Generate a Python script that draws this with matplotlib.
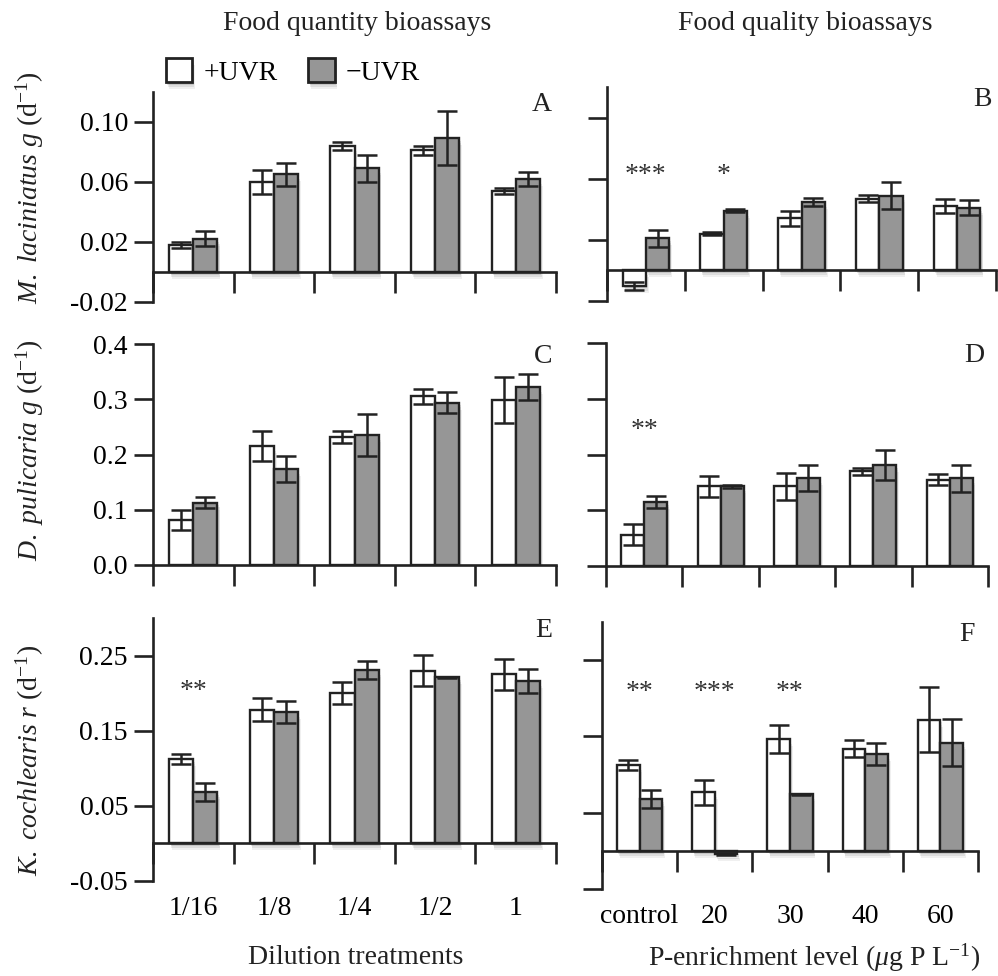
import matplotlib
matplotlib.use("Agg")
import matplotlib.pyplot as plt
import matplotlib.patheffects as pe
import numpy as np

plt.rcParams['font.family'] = ['Liberation Serif', 'DejaVu Serif']
plt.rcParams['mathtext.fontset'] = 'custom'
plt.rcParams['mathtext.rm'] = 'Liberation Serif'
plt.rcParams['mathtext.it'] = 'Liberation Serif:italic'
plt.rcParams['axes.unicode_minus'] = False

# ---------------- data ----------------
cats_qty = ['1/16', '1/8', '1/4', '1/2', '1']
cats_qual = ['control', '20', '30', '40', '60']

A_plus = [0.018, 0.060, 0.084, 0.081, 0.054]
A_plus_err = [0.002, 0.008, 0.0027, 0.0027, 0.002]
A_minus = [0.022, 0.065, 0.069, 0.089, 0.062]
A_minus_err = [0.005, 0.0075, 0.009, 0.018, 0.0044]

B_plus = [-0.010, 0.024, 0.034, 0.047, 0.042]
B_plus_err = [0.0025, 0.001, 0.005, 0.0024, 0.0047]
B_minus = [0.021, 0.039, 0.0446, 0.049, 0.041]
B_minus_err = [0.0057, 0.001, 0.0025, 0.009, 0.005]

C_plus = [0.081, 0.215, 0.231, 0.305, 0.299]
C_plus_err = [0.018, 0.027, 0.011, 0.013, 0.042]
C_minus = [0.113, 0.174, 0.235, 0.294, 0.322]
C_minus_err = [0.010, 0.023, 0.038, 0.019, 0.024]

D_plus = [0.056, 0.143, 0.143, 0.170, 0.155]
D_plus_err = [0.019, 0.0185, 0.024, 0.0066, 0.010]
D_minus = [0.115, 0.143, 0.158, 0.181, 0.157]
D_minus_err = [0.0105, 0.003, 0.023, 0.027, 0.0245]

E_plus = [0.112, 0.178, 0.200, 0.230, 0.225]
E_plus_err = [0.0066, 0.0154, 0.0143, 0.021, 0.0205]
E_minus = [0.068, 0.175, 0.231, 0.221, 0.216]
E_minus_err = [0.012, 0.015, 0.012, 0.001, 0.016]

F_plus = [0.1125, 0.077, 0.147, 0.134, 0.172]
F_plus_err = [0.0065, 0.0163, 0.0185, 0.0115, 0.043]
F_minus = [0.068, -0.004, 0.074, 0.127, 0.142]
F_minus_err = [0.012, 0.001, 0.001, 0.014, 0.031]

yticks_A = [-0.02, 0.02, 0.06, 0.10]
yticks_C = [0.0, 0.1, 0.2, 0.3, 0.4]
yticks_E = [-0.05, 0.05, 0.15, 0.25]

stars_B = [(0, '***'), (1, '*')]
stars_D = [(0, '**')]
stars_E = [(0, '**')]
stars_F = [(0, '**'), (1, '***'), (2, '**')]

# ---------------- figure ----------------
W, H = 998, 976
fig = plt.figure(figsize=(W / 100, H / 100), dpi=100)

def px_axes(left, right, top, bottom):
    return fig.add_axes([left / W, 1 - bottom / H, (right - left) / W, (bottom - top) / H])

FS = 20
DARK = '#222222'
GRAY = '#969696'
bw = 0.30

SHADOW = [pe.SimplePatchShadow(offset=(1, -2), shadow_rgbFace='black', alpha=0.10),
          pe.SimplePatchShadow(offset=(1.5, -3.5), shadow_rgbFace='black', alpha=0.08),
          pe.SimplePatchShadow(offset=(2, -5), shadow_rgbFace='black', alpha=0.06),
          pe.Normal()]

def panel(ax, plus, plus_err, minus, minus_err, ylim, yticks, ylabels, letter,
          cats=None, stars=(), star_y=None, xlab_pad=None):
    x = np.arange(5)
    ekw = dict(ecolor=DARK, elinewidth=1.8, capthick=1.8, capsize=7, zorder=5)
    b1 = ax.bar(x - bw / 2, plus, bw, yerr=plus_err, color='white', edgecolor=DARK,
                linewidth=1.7, error_kw=ekw, zorder=3)
    b2 = ax.bar(x + bw / 2, minus, bw, yerr=minus_err, color=GRAY, edgecolor=DARK,
                linewidth=1.7, error_kw=ekw, zorder=3)
    for p in list(b1) + list(b2):
        p.set_path_effects(SHADOW)
    ax.set_xlim(-0.5, 4.5)
    ax.set_ylim(*ylim)
    for s in ['top', 'right']:
        ax.spines[s].set_visible(False)
    ax.spines['left'].set_linewidth(1.9)
    ax.spines['bottom'].set_linewidth(1.9)
    ax.spines['left'].set_color(DARK)
    ax.spines['bottom'].set_color(DARK)
    ax.spines['bottom'].set_position(('data', 0))
    ax.spines['bottom'].set_zorder(4)
    ax.set_xticks(np.arange(-0.5, 5.0, 1.0))
    ax.set_xticklabels([])
    ax.tick_params(axis='x', which='major', direction='out', length=15, width=1.9, color=DARK)
    ax.set_yticks(yticks)
    if ylabels is not None:
        ax.set_yticklabels(ylabels, fontsize=FS)
    else:
        ax.set_yticklabels([])
    ax.tick_params(axis='y', direction='out', length=14, width=1.9, color=DARK, pad=4)
    if cats is not None:
        ax.set_xticks(x, minor=True)
        ax.set_xticklabels(cats, minor=True, fontsize=FS)
        ax.tick_params(axis='x', which='minor', length=0, pad=xlab_pad)
    ax.patch.set_alpha(0)
    ax.text(4.45, ylim[1], letter, fontsize=FS, ha='right', va='top', color=DARK)
    for idx, s in stars:
        ax.text(idx, star_y, s, fontsize=FS, ha='center', va='center', color='#333333')

axA = px_axes(153, 556, 92, 302)
panel(axA, A_plus, A_plus_err, A_minus, A_minus_err, (-0.02, 0.12), yticks_A,
      ['-0.02', '0.02', '0.06', '0.10'], 'A')
axB = px_axes(607, 996, 87, 301)
panel(axB, B_plus, B_plus_err, B_minus, B_minus_err, (-0.02, 0.12), yticks_A,
      None, 'B', stars=stars_B, star_y=0.062)
axC = px_axes(153, 556, 344, 565)
panel(axC, C_plus, C_plus_err, C_minus, C_minus_err, (0.0, 0.4), yticks_C,
      ['0.0', '0.1', '0.2', '0.3', '0.4'], 'C')
axD = px_axes(606, 988, 343, 566)
panel(axD, D_plus, D_plus_err, D_minus, D_minus_err, (0.0, 0.4), yticks_C,
      None, 'D', stars=stars_D, star_y=0.243)
axE = px_axes(153, 556, 618, 881)
panel(axE, E_plus, E_plus_err, E_minus, E_minus_err, (-0.05, 0.30), yticks_E,
      ['-0.05', '0.05', '0.15', '0.25'], 'E', cats=cats_qty, stars=stars_E,
      star_y=0.202, xlab_pad=38)
axF = px_axes(602, 978, 622, 889)
panel(axF, F_plus, F_plus_err, F_minus, F_minus_err, (-0.05, 0.30), yticks_E,
      None, 'F', cats=cats_qual, stars=stars_F, star_y=0.207, xlab_pad=38)

# column titles
fig.text(357 / W, 1 - 24 / H, 'Food quantity bioassays', fontsize=FS, ha='center', va='center', color=DARK)
fig.text(805 / W, 1 - 24 / H, 'Food quality bioassays', fontsize=FS, ha='center', va='center', color=DARK)

# x labels
fig.text(356 / W, 1 - 958 / H, 'Dilution treatments', fontsize=FS, ha='center', va='center', color=DARK)
fig.text(814 / W, 1 - 958 / H, r'P-enrichment level ($\mathit{\mu}$g P L$^{\mathrm{-1}}$)',
         fontsize=FS, ha='center', va='center', color=DARK)

# y labels
fig.text(30 / W, 1 - 188 / H, r'$\mathit{M.\ laciniatus\ g}$ (d$^{\mathrm{-1}}$)', fontsize=FS,
         rotation=90, ha='center', va='center', color=DARK)
fig.text(30 / W, 1 - 450 / H, r'$\mathit{D.\ pulicaria\ g}$ (d$^{\mathrm{-1}}$)', fontsize=FS,
         rotation=90, ha='center', va='center', color=DARK)
fig.text(30 / W, 1 - 760 / H, r'$\mathit{K.\ cochlearis\ r}$ (d$^{\mathrm{-1}}$)', fontsize=FS,
         rotation=90, ha='center', va='center', color=DARK)

# legend
from matplotlib.patches import Patch
handles = [Patch(facecolor='white', edgecolor=DARK, linewidth=2.0, path_effects=SHADOW),
           Patch(facecolor=GRAY, edgecolor=DARK, linewidth=2.0, path_effects=SHADOW)]
fig.legend(handles, ['+UVR', '\u2212UVR'], loc='center', bbox_to_anchor=(293 / W, 1 - 72 / H),
           ncol=2, frameon=False, fontsize=FS, handlelength=0.95, handleheight=0.95,
           handletextpad=0.4, columnspacing=1.1, borderpad=0)

fig.savefig('out.png', dpi=100)
